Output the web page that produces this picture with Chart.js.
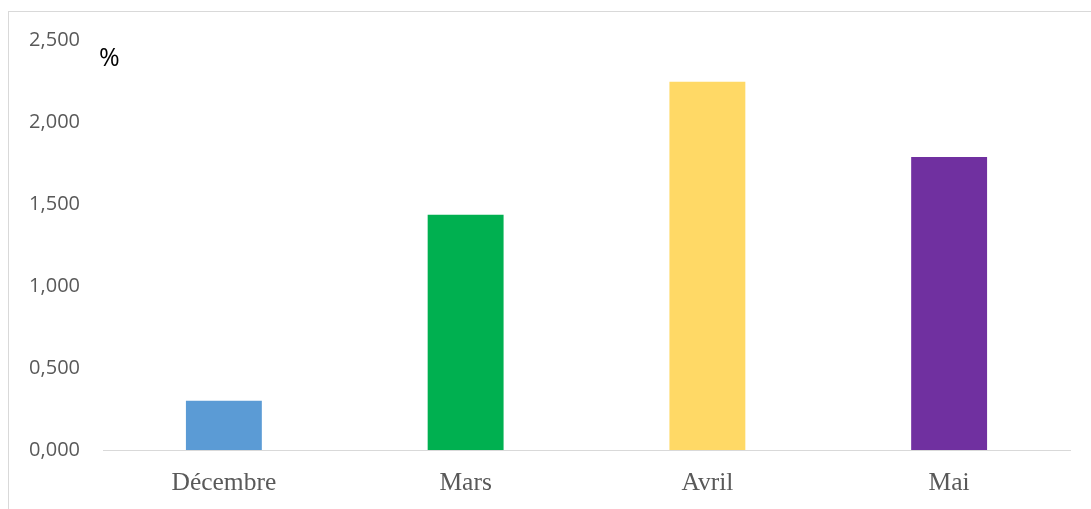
<!DOCTYPE html>
<html>
<head>
<meta charset="utf-8">
<script src="https://cdn.jsdelivr.net/npm/chart.js@4"></script>
<style>
  body { margin: 0; background: #fff; }
  #wrap { position: relative; width: 1091px; height: 509px; overflow: hidden; }
  #frame { position: absolute; left: 8px; top: 11px; width: 1200px; height: 600px;
           border-top: 1px solid #d9d9d9; border-left: 1px solid #d9d9d9; }
  #myChart { position: absolute; left: 0; top: 0; }
  #unit { position: absolute; left: 99px; top: 39px; font: 25px "Open Sans", sans-serif; color: #000; }
</style>
</head>
<body>
<div id="wrap">
  <div id="frame"></div>
  <canvas id="myChart" width="1091" height="509"></canvas>
  <span id="unit">%</span>
</div>
<script>
const months = ["Décembre", "Mars", "Avril", "Mai"]
const values = [0.30, 1.435, 2.245, 1.787]
const colors = ["#5b9bd5", "#00b050", "#ffd966", "#7030a0"]
const yTicks = [0, 0.5, 1, 1.5, 2, 2.5]

const ctx = document.getElementById("myChart").getContext("2d")

new Chart(ctx, {
    type: "bar",
    data: {
        labels: months,
        datasets: [{
            data: values,
            backgroundColor: colors,
            borderWidth: 0,
            categoryPercentage: 1,
            barPercentage: 0.314
        }]
    },
    options: {
        responsive: false,
        animation: false,
        layout: { padding: { top: 40, right: 21, bottom: 0, left: 0 } },
        plugins: { legend: { display: false }, tooltip: { enabled: false } },
        scales: {
            x: {
                grid: { display: false, drawTicks: false },
                border: { color: "#d9d9d9", width: 1 },
                ticks: { color: "#595959", padding: 18, font: { family: "Liberation Serif", size: 25.5 } },
                afterFit: s => { s.height = 59 }
            },
            y: {
                min: 0,
                max: 2.5,
                grid: { display: false, drawTicks: false },
                border: { display: false },
                afterBuildTicks: s => { s.ticks = yTicks.map(v => ({ value: v })) },
                ticks: {
                    color: "#595959",
                    padding: 23,
                    font: { family: "Open Sans", size: 20 },
                    callback: v => v.toFixed(3).replace(".", ",")
                },
                afterFit: s => { s.width = 103 }
            }
        }
    }
})
</script>
</body>
</html>
